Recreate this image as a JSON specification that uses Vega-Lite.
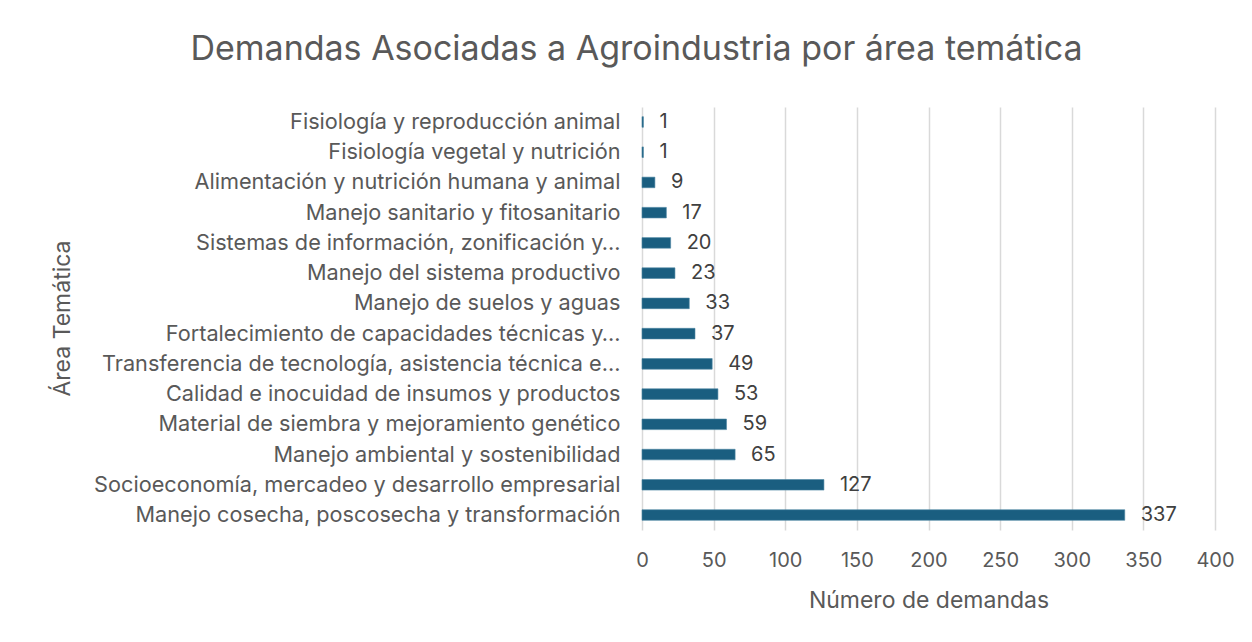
{
  "$schema": "https://vega.github.io/schema/vega-lite/v6.json",
  "autosize": {"type": "none"},
  "width": 573,
  "height": 423,
  "padding": {"left": 642, "top": 107, "right": 37, "bottom": 112},
  "background": "white",
  "title": {
    "text": "Demandas Asociadas a Agroindustria por área temática",
    "font": "Inter",
    "fontSize": 34,
    "fontWeight": "normal",
    "color": "#595959",
    "anchor": "middle",
    "frame": "group",
    "dx": -292,
    "offset": 40
  },
  "data": {
    "values": [
      {"area": "Fisiología y reproducción animal", "n": 1},
      {"area": "Fisiología vegetal y nutrición", "n": 1},
      {"area": "Alimentación y nutrición humana y animal", "n": 9},
      {"area": "Manejo sanitario y fitosanitario", "n": 17},
      {"area": "Sistemas de información, zonificación y…", "n": 20},
      {"area": "Manejo del sistema productivo", "n": 23},
      {"area": "Manejo de suelos y aguas", "n": 33},
      {"area": "Fortalecimiento de capacidades técnicas y…", "n": 37},
      {"area": "Transferencia de tecnología, asistencia técnica e…", "n": 49},
      {"area": "Calidad e inocuidad de insumos y productos", "n": 53},
      {"area": "Material de siembra y mejoramiento genético", "n": 59},
      {"area": "Manejo ambiental y sostenibilidad", "n": 65},
      {"area": "Socioeconomía, mercadeo y desarrollo empresarial", "n": 127},
      {"area": "Manejo cosecha, poscosecha y transformación", "n": 337}
    ]
  },
  "encoding": {
    "y": {
      "field": "area",
      "type": "nominal",
      "sort": null,
      "scale": {"paddingInner": 0.65, "paddingOuter": 0.32},
      "axis": {
        "title": "Área Temática",
        "titleFont": "Inter",
        "titleFontSize": 23,
        "titleFontWeight": "normal",
        "titleColor": "#595959",
        "titleX": -580,
        "titleY": 211,
        "titleAngle": -90,
        "titleAlign": "center",
        "titleBaseline": "middle",
        "labelFont": "Inter",
        "labelFontSize": 21.7,
        "labelColor": "#595959",
        "labelLimit": 620,
        "labelPadding": 22,
        "ticks": false,
        "domain": false,
        "grid": false
      }
    },
    "x": {
      "field": "n",
      "type": "quantitative",
      "scale": {"domain": [0, 400], "nice": false},
      "axis": {
        "title": "Número de demandas",
        "titleFont": "Inter",
        "titleFontSize": 23,
        "titleFontWeight": "normal",
        "titleColor": "#595959",
        "titleY": 70,
        "titleBaseline": "middle",
        "values": [0, 50, 100, 150, 200, 250, 300, 350, 400],
        "labelFont": "Inter",
        "labelFontSize": 20,
        "labelColor": "#595959",
        "labelPadding": 20,
        "labelFlush": false,
        "ticks": false,
        "domain": false,
        "grid": true,
        "gridColor": "#d9d9d9",
        "gridWidth": 1.5
      }
    }
  },
  "layer": [
    {
      "mark": {"type": "bar", "color": "#1a5e80", "stroke": "#4d87a3", "strokeWidth": 0.6}
    },
    {
      "mark": {"type": "text", "align": "left", "baseline": "middle", "dx": 16, "font": "Inter", "fontSize": 20, "color": "#404040"},
      "encoding": {"text": {"field": "n", "type": "quantitative"}}
    }
  ],
  "config": {"view": {"stroke": null}}
}
